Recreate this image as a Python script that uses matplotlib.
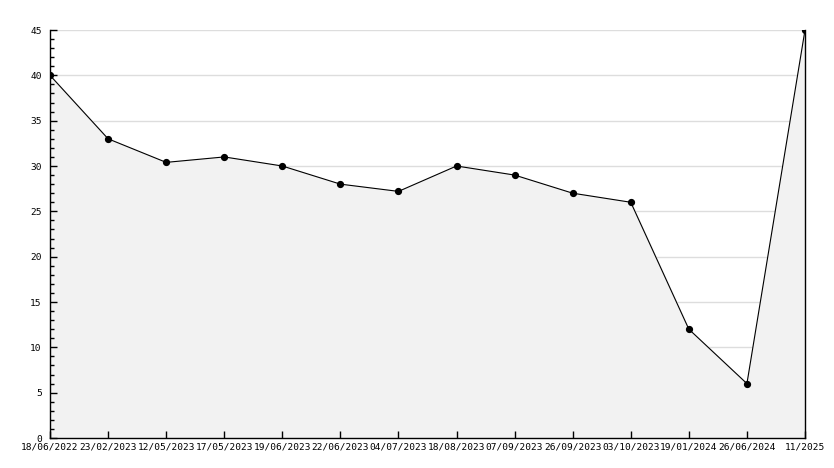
import matplotlib.pyplot as plt
from matplotlib.ticker import MultipleLocator

dates = ["18/06/2022", "23/02/2023", "12/05/2023", "17/05/2023", "19/06/2023",
         "22/06/2023", "04/07/2023", "18/08/2023", "07/09/2023", "26/09/2023",
         "03/10/2023", "19/01/2024", "26/06/2024", "11/2025"]
values = [40, 33, 30.4, 31, 30, 28, 27.2, 30, 29, 27, 26, 12, 6, 45]

plt.rcParams['font.family'] = 'DejaVu Sans Mono'
plt.rcParams['font.size'] = 6.8

fig = plt.figure(figsize=(8.34, 4.68), dpi=100)
ax = fig.add_axes([50 / 834, 30 / 468, 755 / 834, 408 / 468])
ax.set_axisbelow(False)  # ticks on top of the fill

x = list(range(len(values)))
# grid lines drawn by hand so the fill can cover them
for yv in range(5, 50, 5):
    ax.axhline(yv, color="#dddddd", linewidth=1, zorder=1)
ax.fill_between(x, values, 0, color="#f2f2f2", zorder=2)
ax.plot(x, values, color="black", linewidth=0.8, marker="o", markersize=4.2, zorder=3)

ax.set_xlim(0, len(values) - 1)
ax.set_ylim(0, 45)
ax.set_xticks(x)
ax.set_xticklabels(dates)
ax.yaxis.set_major_locator(MultipleLocator(5))
ax.yaxis.set_minor_locator(MultipleLocator(1))

ax.tick_params(axis="both", which="major", direction="in", length=5, width=1, color="black")
ax.tick_params(axis="y", which="minor", direction="in", length=3, width=1)
ax.tick_params(axis="y", pad=6)
ax.tick_params(axis="x", pad=3)
ax.spines["top"].set_visible(False)
for s in ["left", "bottom", "right"]:
    ax.spines[s].set_linewidth(1)
    ax.spines[s].set_zorder(4)

fig.savefig("out.png", dpi=100)
